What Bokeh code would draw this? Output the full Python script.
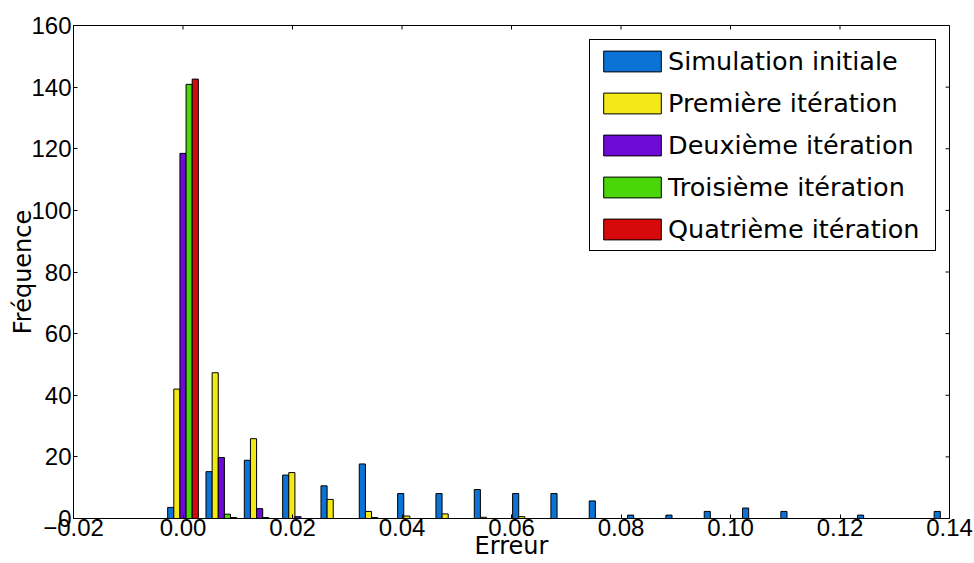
from bokeh.plotting import figure
from bokeh.models import (Range1d, FixedTicker, CustomJSTickFormatter,
                          Legend, LegendItem, ColumnDataSource)
from bokeh.embed import file_html
from bokeh.resources import INLINE

# ---------------- data ----------------
bin_centers = [0.000, 0.007, 0.014, 0.021, 0.028, 0.035, 0.042, 0.049, 0.056, 0.063, 0.070,
               0.077, 0.084, 0.091, 0.098, 0.105, 0.112, 0.119, 0.126, 0.133, 0.140]
series_names = ["Simulation initiale", "Première itération", "Deuxième itération",
                "Troisième itération", "Quatrième itération"]
simulation_initiale = [3.6, 15.2, 18.9, 14.1, 10.6, 17.7, 8.1, 8.1, 9.4, 8.1, 8.1,
                       5.7, 1.1, 1.1, 2.3, 3.4, 2.3, 0.0, 1.1, 0.0, 2.3]
premiere_iteration = [42.0, 47.3, 25.9, 14.9, 6.2, 2.3, 0.8, 1.5, 0.4, 0.6, 0.0,
                      0.0, 0.0, 0.0, 0.0, 0.0, 0.0, 0.0, 0.0, 0.0, 0.0]
deuxieme_iteration = [118.5, 19.8, 3.2, 0.6, 0.0, 0.3, 0.0, 0.0, 0.0, 0.0, 0.0,
                      0.0, 0.0, 0.0, 0.0, 0.0, 0.0, 0.0, 0.0, 0.0, 0.0]
troisieme_iteration = [140.9, 1.4, 0.3, 0.0, 0.0, 0.0, 0.0, 0.0, 0.0, 0.0, 0.0,
                       0.0, 0.0, 0.0, 0.0, 0.0, 0.0, 0.0, 0.0, 0.0, 0.0]
quatrieme_iteration = [142.6, 0.3, 0.0, 0.0, 0.0, 0.0, 0.0, 0.0, 0.0, 0.0, 0.0,
                       0.0, 0.0, 0.0, 0.0, 0.0, 0.0, 0.0, 0.0, 0.0, 0.0]
x_ticks = [-0.02, 0.0, 0.02, 0.04, 0.06, 0.08, 0.10, 0.12, 0.14]
y_ticks = [0, 20, 40, 60, 80, 100, 120, 140, 160]
x_label = "Erreur"
y_label = "Fréquence"

series_values = [simulation_initiale, premiere_iteration, deuxieme_iteration,
                 troisieme_iteration, quatrieme_iteration]
colors = ["#0b73d6", "#f4e918", "#6d0ad5", "#4bd60a", "#d60a0a"]

# ---------------- figure ----------------
W, H = 973, 562
ML, MR, MT, MB = 73, 24, 25, 43
p = figure(width=W, height=H, x_range=Range1d(x_ticks[0], x_ticks[-1]),
           y_range=Range1d(y_ticks[0], y_ticks[-1]),
           output_backend="svg", toolbar_location=None,
           min_border_left=ML, min_border_right=MR, min_border_top=MT, min_border_bottom=MB)
p.xgrid.visible = False
p.ygrid.visible = False
p.outline_line_color = "black"
p.outline_line_alpha = 1.0
p.outline_line_width = 1
p.background_fill_color = "white"
p.border_fill_color = "white"

TICK_FONT = "Liberation Sans"
LABEL_FONT = "DejaVu Sans"

xa = p.xaxis[0]
xa.ticker = FixedTicker(ticks=x_ticks)
xa.formatter = CustomJSTickFormatter(
    code="return (tick < -1e-9 ? '\u2212' : '') + Math.abs(tick).toFixed(2);")
ya = p.yaxis[0]
ya.ticker = FixedTicker(ticks=y_ticks)
for ax in (xa, ya):
    ax.major_label_text_font = TICK_FONT
    ax.major_label_text_font_size = "24px"
    ax.major_label_text_color = "black"
    ax.major_tick_in = 4
    ax.major_tick_out = 0
    ax.major_tick_line_color = "black"
    ax.minor_tick_line_color = None
    ax.axis_line_color = "black"
    ax.axis_label_text_font = LABEL_FONT
    ax.axis_label_text_font_size = "24px"
    ax.axis_label_text_font_style = "normal"
    ax.axis_label_text_color = "black"
xa.major_label_standoff = 0
ya.major_label_standoff = 2
ya.axis_label = y_label
ya.axis_label_standoff = -9
xa.axis_label = x_label
xa.axis_label_standoff = -7

# mirrored inward tick marks on the top and right edges of the frame
frame_w = W - ML - MR
frame_h = H - MT - MB
x_per_px = (x_ticks[-1] - x_ticks[0]) / frame_w
y_per_px = (y_ticks[-1] - y_ticks[0]) / frame_h
tick_len = 4
p.segment(x0=x_ticks, x1=x_ticks, y0=[y_ticks[-1]] * len(x_ticks),
          y1=[y_ticks[-1] - tick_len * y_per_px] * len(x_ticks),
          line_color="black", line_width=1)
p.segment(x0=[x_ticks[-1]] * len(y_ticks), x1=[x_ticks[-1] - tick_len * x_per_px] * len(y_ticks),
          y0=y_ticks, y1=y_ticks, line_color="black", line_width=1)

# ---------------- bars ----------------
bin_width = bin_centers[1] - bin_centers[0]
n = len(series_values)
bar_w = 0.8 * bin_width / n
items = []
for i, (name, vals, col) in enumerate(zip(series_names, series_values, colors)):
    off = (i - (n - 1) / 2) * bar_w
    src = ColumnDataSource(dict(x=[c + off for c in bin_centers], top=vals))
    r = p.vbar(x="x", top="top", bottom=0, width=bar_w, source=src,
               fill_color=col, line_color="black", line_width=1)
    items.append(LegendItem(label=name, renderers=[r]))

legend = Legend(items=items, location=(516, 267),
                label_text_font=LABEL_FONT, label_text_font_size="25.5px",
                label_text_color="black",
                glyph_width=72, glyph_height=26, label_standoff=0, label_width=261,
                spacing=12, padding=6, margin=0,
                border_line_color="black", border_line_width=1, border_line_alpha=1,
                background_fill_color="white", background_fill_alpha=1)
p.add_layout(legend)

open("out.html", "w").write(file_html(p, INLINE))
